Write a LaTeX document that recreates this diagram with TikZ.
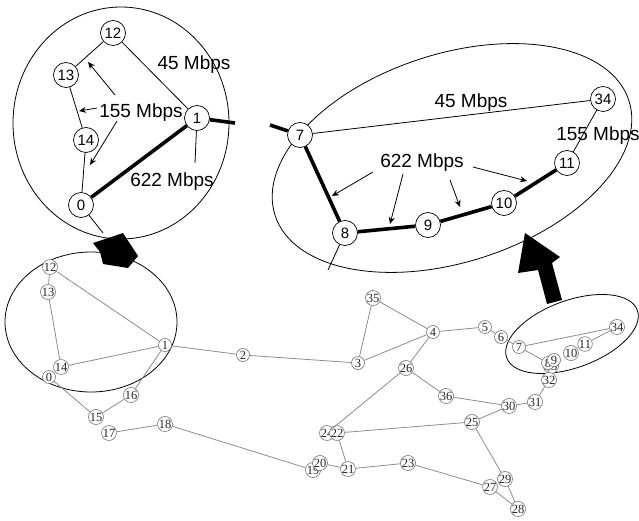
\documentclass[tikz,border=0pt]{standalone}
\usepackage{fontspec}
\setmainfont{Liberation Sans}
\newfontfamily\numserif{Liberation Serif}
\usetikzlibrary{arrows.meta}
\tikzset{
  bignode/.style={circle, draw, fill=white, line width=0.7pt, minimum size=25pt, inner sep=0pt,
    font=\fontsize{15}{15}\selectfont},
  smallnode/.style={circle, draw=black!55, fill=white, line width=0.6pt, minimum size=13pt, inner sep=0pt,
    font=\numserif\fontsize{12.5}{12.5}\selectfont, text=black!85},
  link/.style={draw=black!45, line width=0.8pt},
  thinlink/.style={line width=0.8pt},
  fatlink/.style={line width=3.6pt},
  rate/.style={font=\fontsize{19}{19}\selectfont, inner sep=0pt},
  ptr/.style={-{Stealth[length=7pt,width=6pt]}, line width=0.8pt},
  zoomring/.style={line width=0.8pt}
}
\begin{document}
\begin{tikzpicture}[x=1pt,y=-1pt]
\useasboundingbox (0,0) rectangle (639,521);
\fill[white] (0,0) rectangle (639,521);

% ---------- magnifier outlines ----------
\draw[zoomring] (121,123) ellipse [x radius=108pt, y radius=116pt];
\draw[zoomring, rotate around={18:(452,158)}] (452,158) ellipse [x radius=186pt, y radius=104pt];
\draw[zoomring] (91,322) ellipse [x radius=86pt, y radius=70pt];
\draw[zoomring, rotate around={20:(572,334)}] (572,334) ellipse [x radius=69.5pt, y radius=33.6pt];

% ---------- pointers from the small rings to the enlarged views ----------
\fill (93,243) -- (123,233) -- (138,256) -- (128,268) -- (103,264) -- (100,252) -- cycle;
\fill (525,233) -- (560,257) -- (552,263) -- (562,300) -- (547,304) -- (538,270) -- (518,273) -- cycle;

% ---------- full network ----------
\node[smallnode] (n12) at (50,267) {12};
\node[smallnode] (n13) at (48,292) {13};
\node[smallnode] (n0)  at (49,377) {0};
\node[smallnode] (n14) at (61,367) {14};
\node[smallnode] (n1)  at (165,345) {1};
\node[smallnode] (n16) at (131,395) {16};
\node[smallnode] (n15) at (96,417) {15};
\node[smallnode] (n17) at (109,433) {17};
\node[smallnode] (n18) at (165,424) {18};
\node[smallnode] (n2)  at (243,355) {2};
\node[smallnode] (n3)  at (358,363) {3};
\node[smallnode] (n35) at (373,298) {35};
\node[smallnode] (n4)  at (433,332) {4};
\node[smallnode] (n5)  at (485,327) {5};
\node[smallnode] (n6)  at (501,337) {6};
\node[smallnode] (n7)  at (519,347) {7};
\node[smallnode] (n34) at (617,327) {34};
\node[smallnode] (n11) at (585,344) {11};
\node[smallnode] (n10) at (571,353) {10};
\node[smallnode] (n33) at (551,366) {33};
\node[smallnode] (n8)  at (548,363) {8};
\node[smallnode] (n9)  at (554,360) {9};
\node[smallnode] (n32) at (549,380) {32};
\node[smallnode] (n31) at (535,402) {31};
\node[smallnode] (n30) at (509,406) {30};
\node[smallnode] (n36) at (446,396) {36};
\node[smallnode] (n26) at (406,368) {26};
\node[smallnode] (n25) at (472,422) {25};
\node[smallnode] (n24) at (327,433) {24};
\node[smallnode] (n22) at (337,433) {22};
\node[smallnode] (n19) at (313,470) {19};
\node[smallnode] (n20) at (320,463) {20};
\node[smallnode] (n21) at (348,469) {21};
\node[smallnode] (n23) at (408,463) {23};
\node[smallnode] (n27) at (490,487) {27};
\node[smallnode] (n29) at (505,479) {29};
\node[smallnode] (n28) at (518,509) {28};

\foreach \a/\b in {n12/n13, n13/n14, n12/n1, n14/n1, n1/n16, n16/n15, n0/n15, n17/n18,
  n18/n19, n20/n21, n1/n2, n2/n3, n3/n35, n35/n4, n3/n4, n4/n5, n5/n6, n6/n7, n7/n34,
  n34/n11, n7/n8, n4/n26, n26/n36, n36/n30, n30/n31, n31/n32, n32/n8, n26/n24, n22/n25,
  n22/n21, n21/n23, n23/n27, n25/n29, n27/n28, n29/n28, n25/n30}
  \draw[link] (\a) -- (\b);

% ---------- enlarged view: left ring ----------
\node[bignode] (t12) at (113,33) {12};
\node[bignode] (t13) at (66,75) {13};
\node[bignode] (t14) at (86,140) {14};
\node[bignode] (t0)  at (81,205) {0};
\node[bignode] (t1)  at (197,118) {1};
\coordinate (t1out) at (235,123);
\coordinate (t1tail) at (195,163);
\coordinate (t0tail) at (103,233);

\draw[thinlink] (t12) -- (t13);
\draw[thinlink] (t12) -- (t1);
\draw[thinlink] (t13) -- (t14);
\draw[thinlink] (t14) -- (t0);
\draw[fatlink] (t0) -- (t1);
\draw[fatlink] (t1) -- (t1out);
\draw[thinlink] (t1) -- (t1tail);
\draw[thinlink] (t0) -- (t0tail);

\node[rate] (l45a)  at (194,65)  {45 Mbps};
\node[rate] (l155a) at (141,113) {155 Mbps};
\node[rate] (l622a) at (172,182) {622 Mbps};

\coordinate (pa1s) at (115,95);  \coordinate (pa1e) at (88,62);
\coordinate (pa2s) at (97,108);  \coordinate (pa2e) at (79,111);
\coordinate (pa3s) at (117,121); \coordinate (pa3e) at (90,165);
\draw[ptr] (pa1s) -- (pa1e);
\draw[ptr] (pa2s) -- (pa2e);
\draw[ptr] (pa3s) -- (pa3e);

% ---------- enlarged view: right ring ----------
\node[bignode] (r7)  at (300,135) {7};
\node[bignode] (r8)  at (345,233) {8};
\node[bignode] (r9)  at (428,225) {9};
\node[bignode] (r10) at (504,203) {10};
\node[bignode] (r11) at (567,163) {11};
\node[bignode] (r34) at (603,99)  {34};
\coordinate (r7in) at (270,125);
\coordinate (r8tail) at (328,270);

\draw[thinlink] (r7) -- (r34);
\draw[thinlink] (r34) -- (r11);
\draw[fatlink] (r7in) -- (r7);
\draw[fatlink] (r7) -- (r8);
\draw[fatlink] (r8) -- (r9);
\draw[fatlink] (r9) -- (r10);
\draw[fatlink] (r10) -- (r11);
\draw[thinlink] (r8) -- (r8tail);

\node[rate] (l45b)  at (471,103) {45 Mbps};
\node[rate] (l155b) at (598,136) {155 Mbps};
\node[rate] (l622b) at (422,163) {622 Mbps};

\coordinate (pb1s) at (373,172); \coordinate (pb1e) at (332,196);
\coordinate (pb2s) at (403,174); \coordinate (pb2e) at (390,224);
\coordinate (pb3s) at (450,180); \coordinate (pb3e) at (460,207);
\coordinate (pb4s) at (473,167); \coordinate (pb4e) at (527,181);
\draw[ptr] (pb1s) -- (pb1e);
\draw[ptr] (pb2s) -- (pb2e);
\draw[ptr] (pb3s) -- (pb3e);
\draw[ptr] (pb4s) -- (pb4e);
\end{tikzpicture}
\end{document}
